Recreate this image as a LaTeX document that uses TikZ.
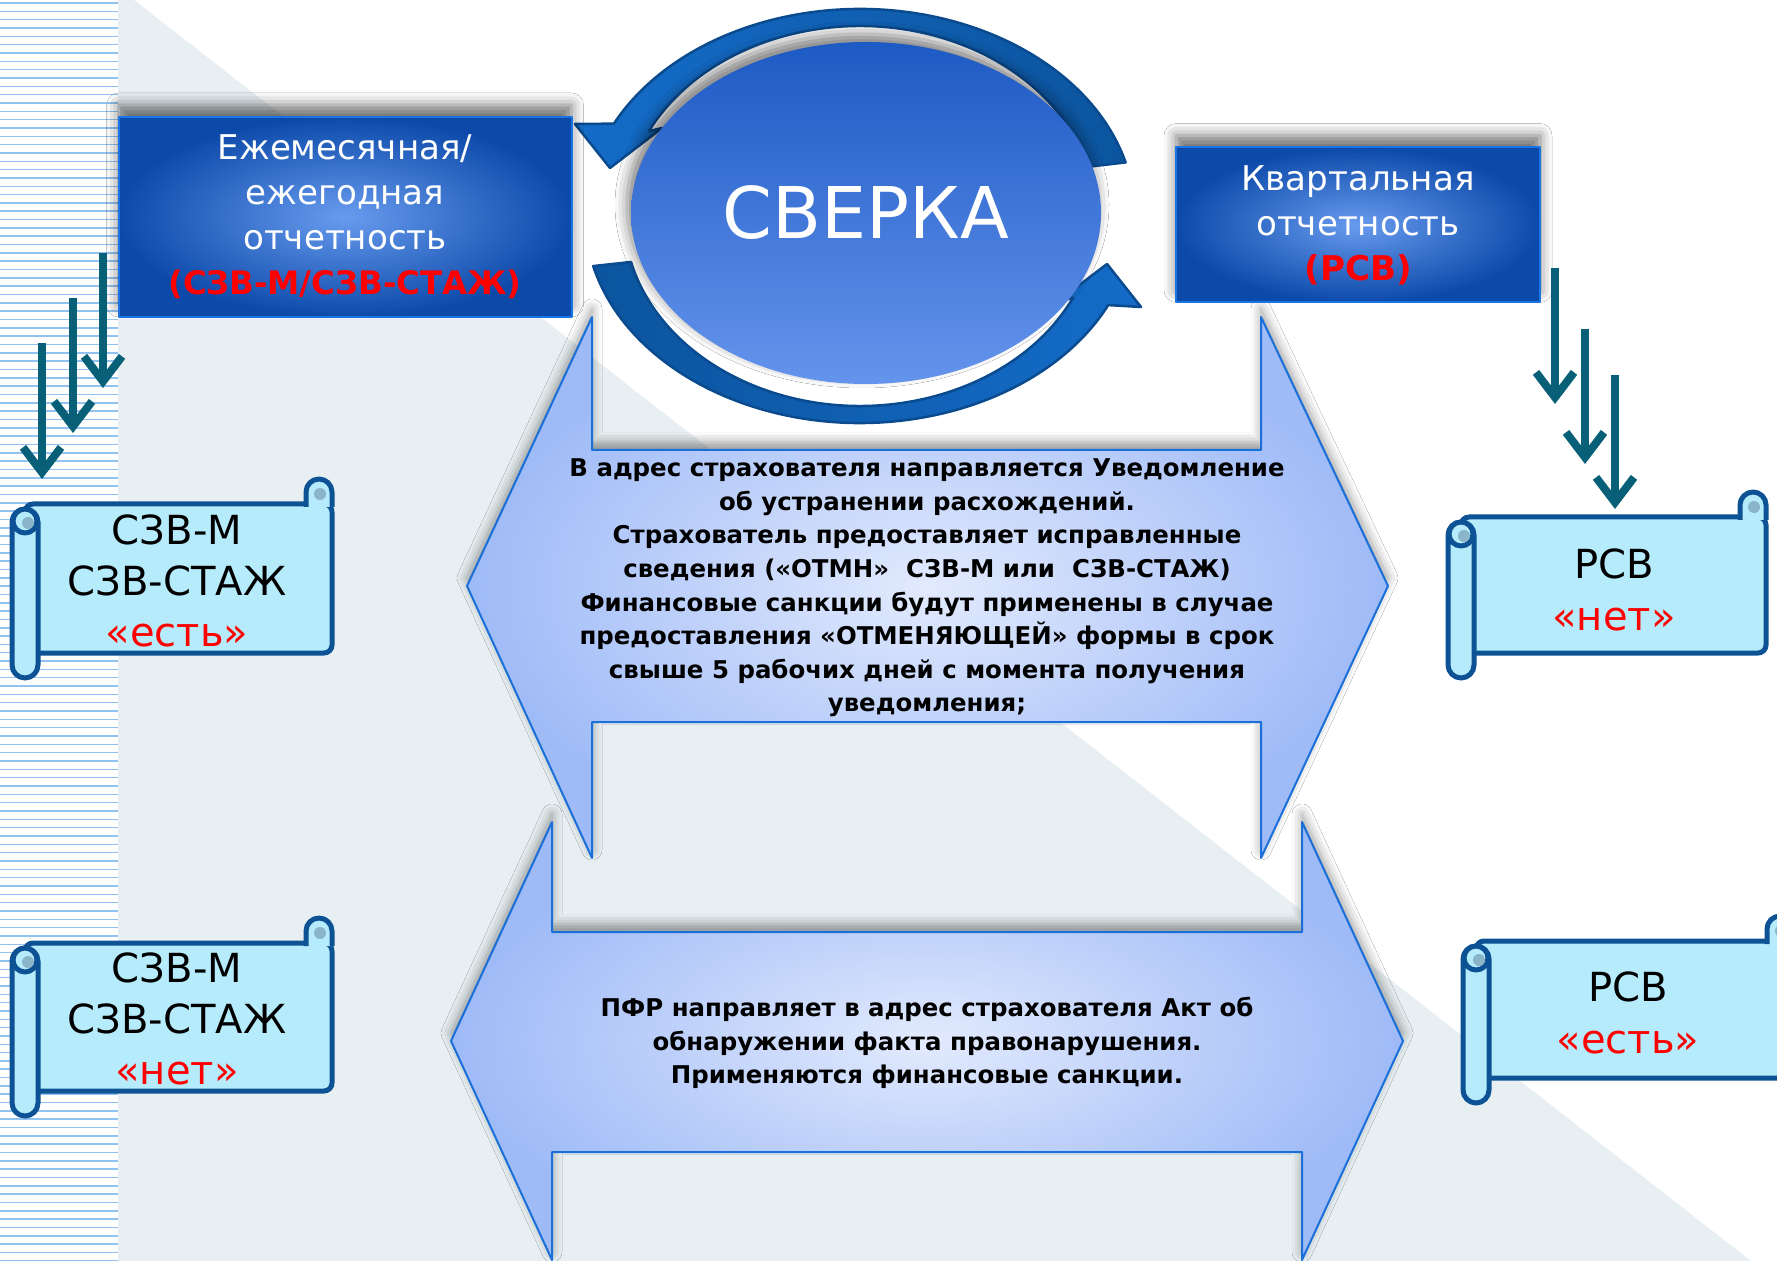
\documentclass[tikz,border=0pt]{standalone}
\usepackage{fontspec}
\setmainfont{DejaVu Sans}
\usetikzlibrary{shapes.geometric,shadows.blur,arrows.meta,calc}

% 色の定義
\definecolor{bgGray}{RGB}{232,239,242}
\definecolor{stripLine}{RGB}{146,194,240}
\definecolor{boxDark}{RGB}{12,74,170}
\definecolor{boxLight}{RGB}{104,155,238}
\definecolor{boxRim}{RGB}{27,116,228}
\definecolor{ovalTop}{RGB}{30,90,196}
\definecolor{ovalBottom}{RGB}{100,148,236}
\definecolor{ringDark}{RGB}{12,84,158}
\definecolor{ringLight}{RGB}{20,108,200}
\definecolor{ringRim}{RGB}{10,74,142}
\definecolor{arrowEdge}{RGB}{158,186,247}
\definecolor{arrowMid}{RGB}{226,234,253}
\definecolor{arrowRim}{RGB}{26,111,216}
\definecolor{scrollFill}{RGB}{181,235,250}
\definecolor{scrollRim}{RGB}{12,82,148}
\definecolor{scrollCurl}{RGB}{138,180,200}
\definecolor{tealArrow}{RGB}{8,96,120}
\definecolor{redMark}{RGB}{255,0,0}

\tikzset{
  bluebox/.style={rectangle, inner color=boxLight, outer color=boxDark,
    draw=boxRim, line width=0.2mm, text=white, align=center, inner sep=0pt,
    font=\fontsize{9.7}{12.8}\selectfont,
    blur shadow={shadow xshift=0pt, shadow yshift=1.2mm, shadow blur radius=1.2mm, shadow opacity=55}},
  bigarrow/.style={inner color=arrowMid, outer color=arrowEdge,
    draw=arrowRim, line width=0.2mm,
    blur shadow={shadow xshift=0pt, shadow yshift=0.8mm, shadow blur radius=1mm, shadow opacity=40}},
  calltext/.style={align=center, font=\fontsize{6.95}{9.56}\selectfont\bfseries},
  ringarrow/.style={draw=ringRim, line width=0.25mm},
  scrollline/.style={fill=scrollFill, draw=scrollRim, line width=0.5mm},
  scrolltext/.style={align=center, font=\fontsize{11.4}{14.5}\selectfont},
  downarrow/.style={draw=tealArrow, line width=0.8mm, line cap=butt,
    -{Straight Barb[length=2.5mm, width=3.8mm]}}
}

% 巻物 {左}{上}{幅}{高さ}
\newcommand{\scrollshape}[4]{%
  \filldraw[scrollline, rounded corners=0.8mm] ({#1+13},#2) rectangle ({#1+#3},{#2+#4});
  \filldraw[scrollline] ({#1+#3-26},{#2+3}) -- ({#1+#3-26},{#2-12})
    arc[start angle=180, end angle=360, radius=13] -- ({#1+#3},{#2+3});
  \fill[scrollCurl] ({#1+#3-12},{#2-10}) circle[radius=6];
  \filldraw[scrollline, rounded corners=1.3mm] (#1,{#2+5}) rectangle ({#1+26},{#2+#4+25});
  \filldraw[scrollline] ({#1+13},{#2+17}) circle[radius=12];
  \fill[scrollCurl] ({#1+16},{#2+19}) circle[radius=6];
}

\begin{document}
\begin{tikzpicture}[x=0.1mm, y=-0.1mm, line join=round]

    \useasboundingbox (0,0) rectangle (1777,1261);
    \clip (0,0) rectangle (1777,1261);

    % 背景
    \fill[white] (0,0) rectangle (1777,1261);
    \fill[bgGray] (134,0) -- (1751,1261) -- (0,1261) -- (0,0) -- cycle;
    \fill[white] (0,0) rectangle (118,1261);
    \foreach \k in {0,...,151}
        \draw[stripLine, line width=0.15mm] (0,{\k*8.33+3}) -- (118,{\k*8.33+3});

    % 両矢印（下）
    \path[bigarrow] (552,822) -- (552,932) -- (1302,932) -- (1302,822) -- (1403,1041)
        -- (1302,1260) -- (1302,1152) -- (552,1152) -- (552,1260) -- (451,1041) -- cycle;
    % 両矢印（上）
    \path[bigarrow] (592,317) -- (592,450) -- (1261,450) -- (1261,317) -- (1388,586)
        -- (1261,858) -- (1261,722) -- (592,722) -- (592,858) -- (467,586) -- cycle;

    % 円形の矢印
    \coordinate (ringC) at (860,216);
    \filldraw[ringarrow, left color=ringLight, right color=ringDark]
        ($(ringC)+(-15:275 and 207)$)
        arc[start angle=-15, end angle=-153.5, x radius=275, y radius=207]
        -- (575,124) -- (610,168) -- (662,128)
        -- ($(ringC)+(-153.5:236 and 190)$)
        arc[start angle=-153.5, end angle=-15, x radius=236, y radius=190] -- cycle;
    \filldraw[ringarrow, left color=ringDark, right color=ringLight]
        ($(ringC)+(166:275 and 207)$)
        arc[start angle=166, end angle=25.5, x radius=275, y radius=207]
        -- (1141,307) -- (1107,264) -- (1057,302)
        -- ($(ringC)+(25.5:236 and 190)$)
        arc[start angle=25.5, end angle=166, x radius=236, y radius=190] -- cycle;

    % 中央の楕円
    \node[ellipse, minimum width=47mm, minimum height=34.2mm, inner sep=0pt,
        top color=ovalTop, bottom color=ovalBottom, text=white,
        font=\fontsize{20.3}{24}\selectfont,
        blur shadow={shadow xshift=-0.4mm, shadow yshift=0.8mm, shadow blur radius=1.2mm, shadow opacity=50}]
        (sverka) at (866,213) {СВЕРКА};

    % 報告の箱
    \node[bluebox, minimum width=45.3mm, minimum height=20mm] (monthly) at (345,217)
        {Ежемесячная/\\ежегодная\\отчетность\\\textcolor{redMark}{\fontsize{9.2}{12.8}\selectfont\textbf{(СЗВ-М/СЗВ-СТАЖ)}}};
    \node[bluebox, minimum width=36.4mm, minimum height=15.5mm] (quarter) at (1358,225)
        {Квартальная\\отчетность\\\textcolor{redMark}{\textbf{(РСВ)}}};

    % 説明文
    \node[calltext] (notice) at (927,588)
        {В адрес страхователя направляется Уведомление\\
         об устранении расхождений.\\
         Страхователь предоставляет исправленные\\
         сведения («ОТМН»~ СЗВ-М или~ СЗВ-СТАЖ)\\
         Финансовые санкции будут применены в случае\\
         предоставления «ОТМЕНЯЮЩЕЙ» формы в срок\\
         свыше 5 рабочих дней с момента получения\\
         уведомления;};
    \node[calltext] (penalty) at (927,1043)
        {ПФР направляет в адрес страхователя Акт об\\
         обнаружении факта правонарушения.\\
         Применяются финансовые санкции.};

    % 下向きの矢印
    \coordinate (l1s) at (103,253); \coordinate (l1e) at (103,388);
    \coordinate (l2s) at (73,298);  \coordinate (l2e) at (73,433);
    \coordinate (l3s) at (42,343);  \coordinate (l3e) at (42,479);
    \coordinate (r1s) at (1555,268); \coordinate (r1e) at (1555,404);
    \coordinate (r2s) at (1585,329); \coordinate (r2e) at (1585,464);
    \coordinate (r3s) at (1615,375); \coordinate (r3e) at (1615,509);
    \foreach \s/\e in {l1s/l1e, l2s/l2e, l3s/l3e, r1s/r1e, r2s/r2e, r3s/r3e}
        \draw[downarrow] (\s) -- (\e);

    % 巻物
    \scrollshape{12}{504}{320}{149}
    \scrollshape{12}{943}{320}{148}
    \scrollshape{1448}{517}{318}{136}
    \scrollshape{1463}{941}{330}{137}

    \node[scrolltext] (szvYes) at (177,581) {СЗВ-М\\СЗВ-СТАЖ\\\textcolor{redMark}{«есть»}};
    \node[scrolltext] (szvNo) at (177,1019) {СЗВ-М\\СЗВ-СТАЖ\\\textcolor{redMark}{«нет»}};
    \node[scrolltext, font=\fontsize{11.4}{15}\selectfont] (rsvNo) at (1614,590)
        {РСВ\\\textcolor{redMark}{«нет»}};
    \node[scrolltext, font=\fontsize{11.4}{15}\selectfont] (rsvYes) at (1628,1013)
        {РСВ\\\textcolor{redMark}{«есть»}};

\end{tikzpicture}
\end{document}
